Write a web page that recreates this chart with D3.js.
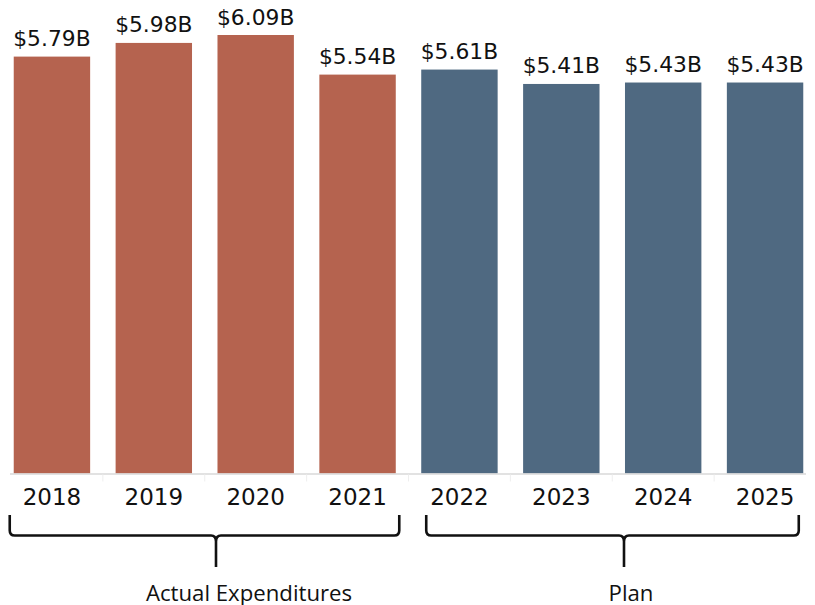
<!DOCTYPE html>
<html>
<head>
<meta charset="utf-8">
<script src="https://cdn.jsdelivr.net/npm/d3@7/dist/d3.min.js"></script>
<style>
  html, body { margin: 0; padding: 0; background: #fff; }
  svg { display: block; }
</style>
</head>
<body>
<svg id="chart" width="815" height="605"></svg>
<script>
// ---- data ----
const years = ["2018", "2019", "2020", "2021", "2022", "2023", "2024", "2025"];
const values = [5.79, 5.98, 6.09, 5.54, 5.61, 5.41, 5.43, 5.43];
const valueLabels = ["$5.79B", "$5.98B", "$6.09B", "$5.54B", "$5.61B", "$5.41B", "$5.43B", "$5.43B"];
const groupOf = ["Actual", "Actual", "Actual", "Actual", "Plan", "Plan", "Plan", "Plan"];
const groupNames = ["Actual", "Plan"];
const groupLabels = ["Actual Expenditures", "Plan"];
const groupColors = ["#B5634F", "#4F6981"];

// ---- layout ----
const baseline = 473.5;
const svg = d3.select("#chart");

const x = d3.scaleBand().domain(years).range([1, 816]).paddingInner(0.25).paddingOuter(0.125);
const y = d3.scaleLinear().domain([0, 6.09]).range([baseline, 35]);
const color = d3.scaleOrdinal().domain(groupNames).range(groupColors);

const rows = years.map((yr, i) => ({ year: yr, value: values[i], label: valueLabels[i], group: groupOf[i] }));

// bars
svg.append("g").selectAll("rect").data(rows).join("rect")
  .attr("x", d => x(d.year))
  .attr("y", d => y(d.value))
  .attr("width", x.bandwidth())
  .attr("height", d => y(0) - y(d.value))
  .attr("fill", d => color(d.group));

// value labels
svg.append("g").selectAll("text").data(rows).join("text")
  .attr("x", d => x(d.year) + x.bandwidth() / 2)
  .attr("y", d => y(d.value) - 10.5)
  .attr("text-anchor", "middle")
  .style("font-family", "'DejaVu Sans', Verdana, sans-serif")
  .attr("font-size", 21.8)
  .attr("fill", "#111")
  .text(d => d.label);

// x axis
const axis = d3.axisBottom(x).tickSize(0).tickPadding(0);
const gx = svg.append("g").attr("transform", `translate(0,${baseline})`).call(axis);
gx.select(".domain").remove();
gx.selectAll(".tick text")
  .attr("y", 31.5)
  .attr("dy", 0)
  .style("font-family", "'DejaVu Sans', Verdana, sans-serif")
  .attr("font-size", 23)
  .attr("fill", "#111");

// axis line
svg.append("line")
  .attr("x1", 10).attr("x2", 806)
  .attr("y1", baseline + 0.5).attr("y2", baseline + 0.5)
  .attr("stroke", "#d9d9d9").attr("stroke-width", 1.5);

// faint category separators
const step = x.step();
svg.append("g").selectAll("line").data(years.slice(1)).join("line")
  .attr("x1", d => x(d) - step * x.paddingInner() / 2)
  .attr("x2", d => x(d) - step * x.paddingInner() / 2)
  .attr("y1", baseline + 1).attr("y2", baseline + 8)
  .attr("stroke", "#eeeeee").attr("stroke-width", 1);

// braces
function bracePath(x0, x1, cx, yTop, yMid, yTip) {
  const r = 5;
  return `M${x0},${yTop} L${x0},${yMid - r} Q${x0},${yMid} ${x0 + r},${yMid} ` +
         `L${cx - 5},${yMid} Q${cx},${yMid} ${cx},${yMid + 6} L${cx},${yTip} ` +
         `M${cx},${yMid + 6} Q${cx},${yMid} ${cx + 5},${yMid} ` +
         `L${x1 - r},${yMid} Q${x1},${yMid} ${x1},${yMid - r} L${x1},${yTop}`;
}
const groups = groupNames.map((g, i) => {
  const ys = years.filter((_, j) => groupOf[j] === g);
  return { name: g, label: groupLabels[i], first: ys[0], last: ys[ys.length - 1] };
});
const braceBounds = groups.map((g, i) => {
  const x0 = x(g.first) + (i === 0 ? -4 : 5);
  const x1 = x(g.last) + x.bandwidth() + (i === 0 ? 3.5 : -4.5);
  return [x0, x1];
});
const cuspOffset = 11.5;
svg.append("g").selectAll("path").data(groups).join("path")
  .attr("d", (g, i) => bracePath(braceBounds[i][0], braceBounds[i][1],
        (braceBounds[i][0] + braceBounds[i][1]) / 2 + cuspOffset, 515, 535.5, 567))
  .attr("fill", "none")
  .attr("stroke", "#111")
  .attr("stroke-width", 2.6);

// group labels
const labelOffsets = [44.5, 18.5];
svg.append("g").selectAll("text").data(groups).join("text")
  .attr("x", (g, i) => (braceBounds[i][0] + braceBounds[i][1]) / 2 + labelOffsets[i])
  .attr("y", 601)
  .attr("text-anchor", "middle")
  .style("font-family", "'Open Sans', Lato, sans-serif")
  .attr("font-size", 22.2)
  .attr("fill", "#111")
  .text(g => g.label);
</script>
</body>
</html>
